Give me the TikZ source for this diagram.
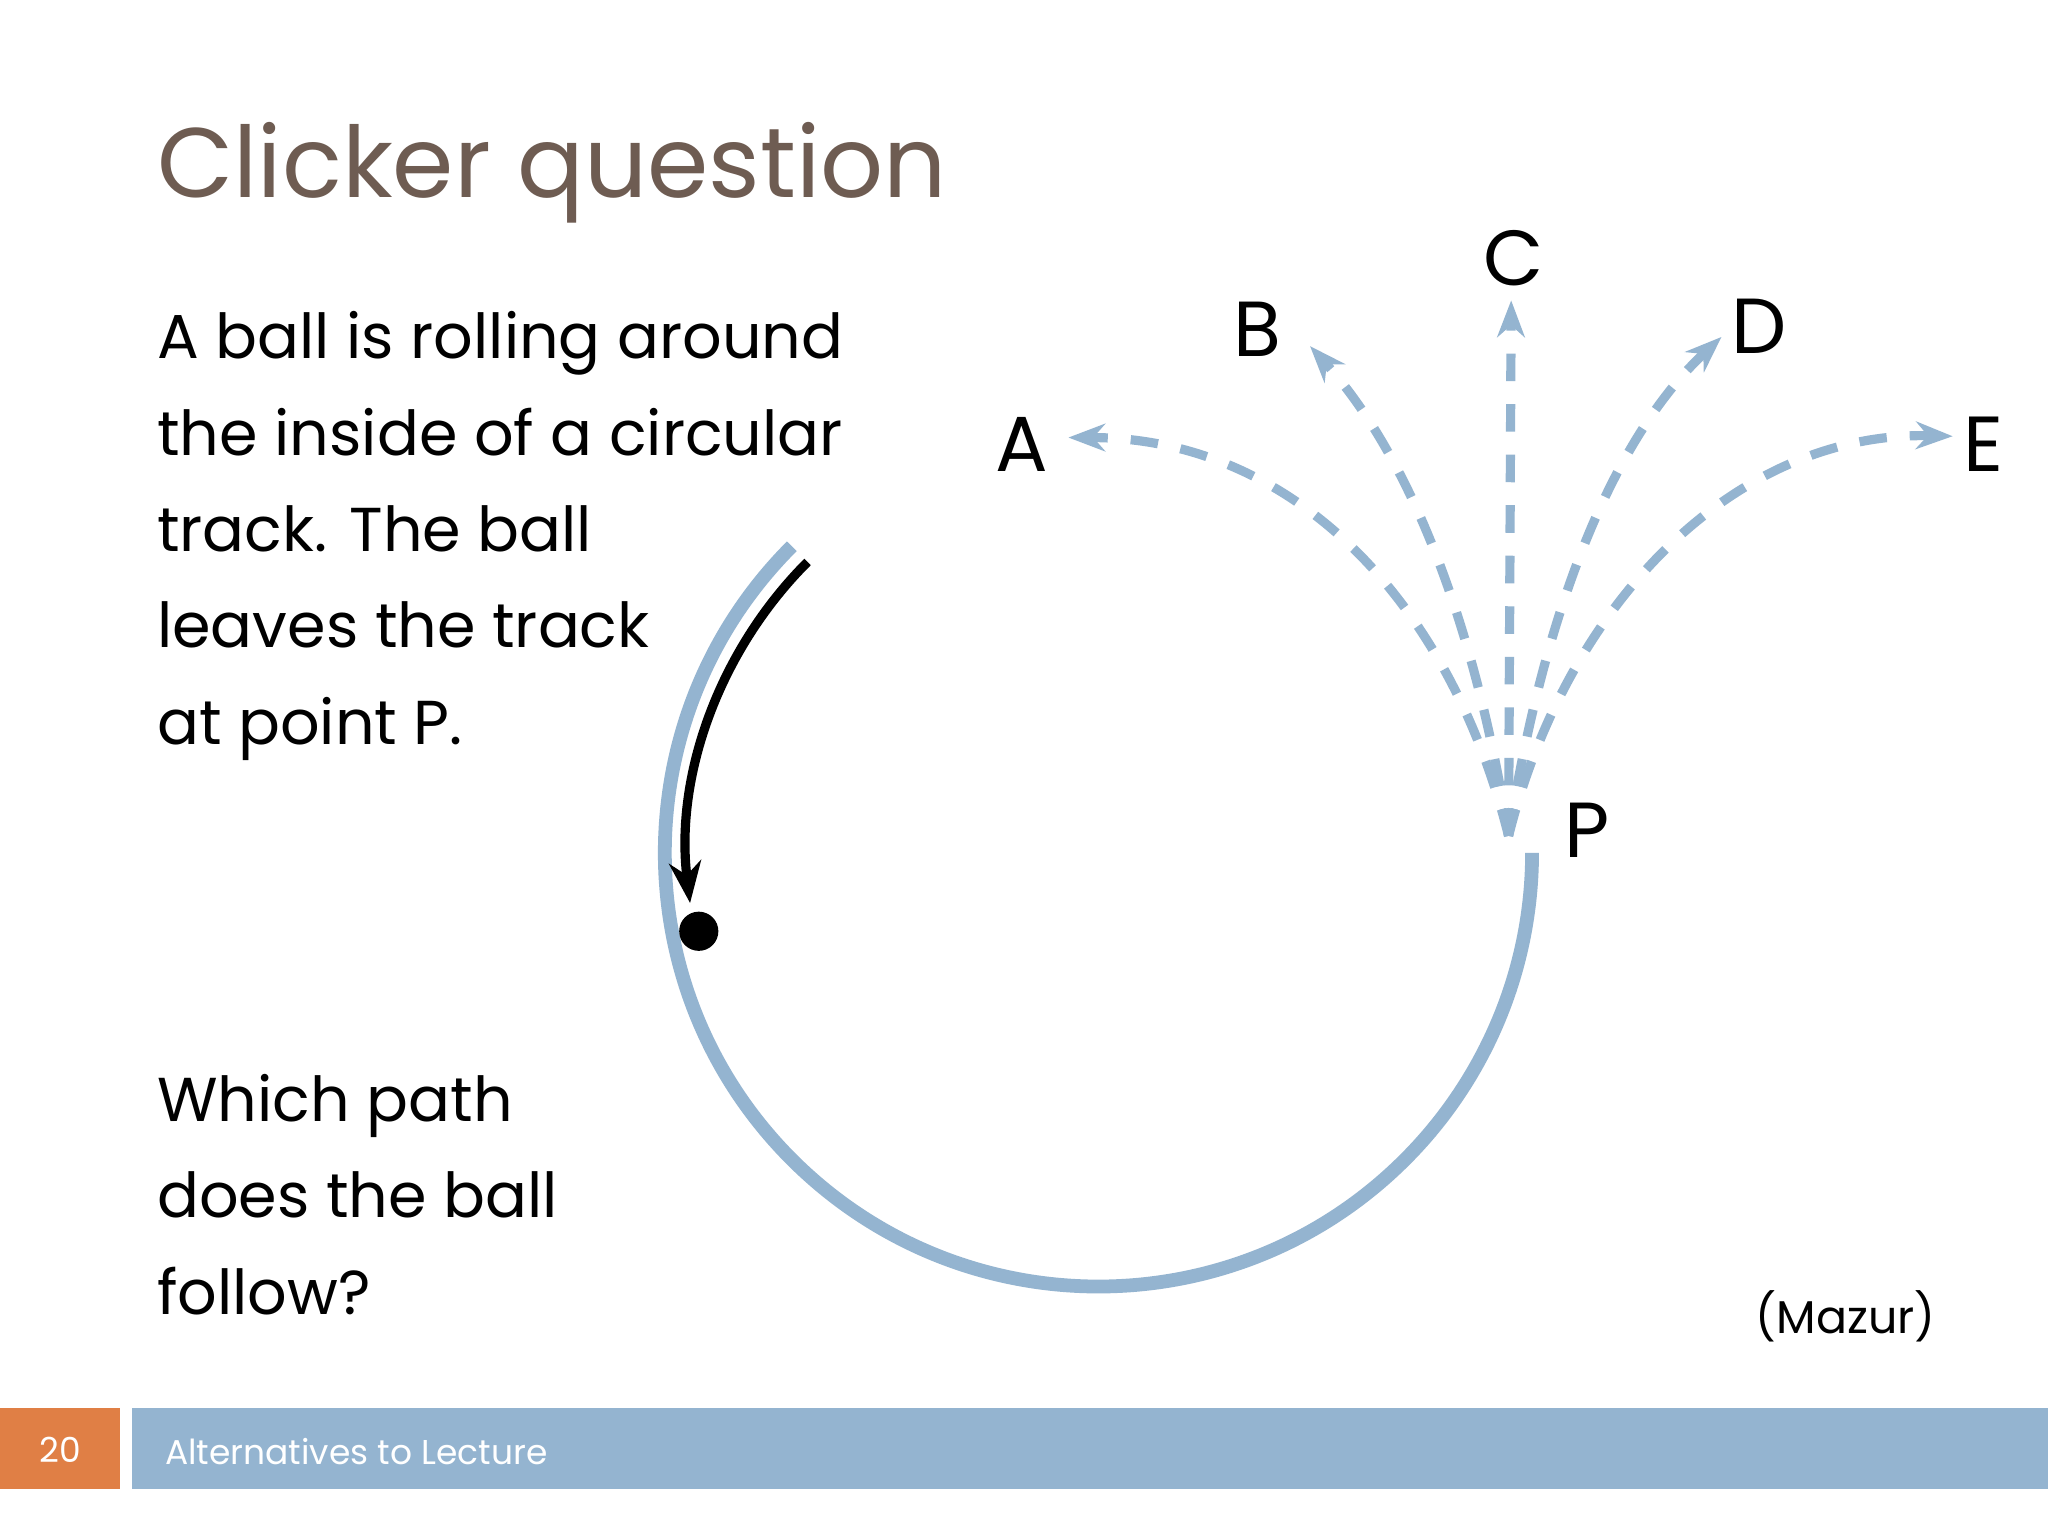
\documentclass[tikz,border=0pt]{standalone}
\usepackage{fontspec}
\setmainfont{Poppins}
\usetikzlibrary{arrows.meta}
\definecolor{trk}{RGB}{148,180,208}
\definecolor{ttl}{RGB}{110,92,82}
\definecolor{org}{RGB}{224,127,69}
\tikzset{
  path/.style={trk,line width=2pt,dash pattern=on 6pt off 5pt,-{Stealth[length=8pt,width=6pt]}},
  lbl/.style={font=\fontsize{17}{20}\selectfont},
  body/.style={anchor=north west,align=left,font=\fontsize{13.5}{21}\selectfont}
}
\begin{document}
\begin{tikzpicture}[x=0.01cm,y=-0.01cm]
\useasboundingbox (0,0) rectangle (1568,1176);
\fill[white] (0,0) rectangle (1568,1176);
\node[anchor=west,ttl,font=\fontsize{21.5}{26}\selectfont] (title) at (108,132) {Clicker question};
\node[body] (q) at (108,226) {A ball is rolling around\\the inside of a circular\\track. The ball\\leaves the track\\at point P.};
\node[body] (w) at (108,810) {Which path\\does the ball\\follow?};
% track
\draw[trk,line width=3pt] (841,653) ++(-135:332) arc[start angle=-135,end angle=-360,radius=332];
\draw[black,line width=2pt,-{Stealth[length=9pt,width=7pt]}] (841,653) ++(-135:315) arc[start angle=-135,end angle=-187,radius=315];
\fill (535,713) circle[radius=15];
% paths
\coordinate (P0) at (1155,640);
\node[lbl] (A) at (782,340) {A};
\node[lbl] (B) at (963,252) {B};
\node[lbl] (C) at (1159,198) {C};
\node[lbl] (D) at (1347,250) {D};
\node[lbl] (E) at (1519,340) {E};
\node[lbl] (P) at (1215,636) {P};
\draw[path] (P0) .. controls (1110,460) and (990,335) .. (818,335);
\draw[path] (P0) .. controls (1130,480) and (1080,350) .. (1003,265);
\draw[path] (P0) -- (1157,230);
\draw[path] (P0) .. controls (1180,480) and (1230,340) .. (1318,258);
\draw[path] (P0) .. controls (1200,460) and (1330,330) .. (1495,334);
\node[font=\fontsize{10}{12}\selectfont] (m) at (1413,1008) {(Mazur)};
% footer
\fill[org] (0,1078) rectangle (92,1140);
\fill[trk] (101,1078) rectangle (1568,1140);
\node[white,font=\fontsize{7.5}{10}\selectfont] (n) at (46,1110) {20};
\node[white,anchor=west,font=\fontsize{7.5}{10}\selectfont] (f) at (114,1111) {Alternatives to Lecture};
\end{tikzpicture}
\end{document}
